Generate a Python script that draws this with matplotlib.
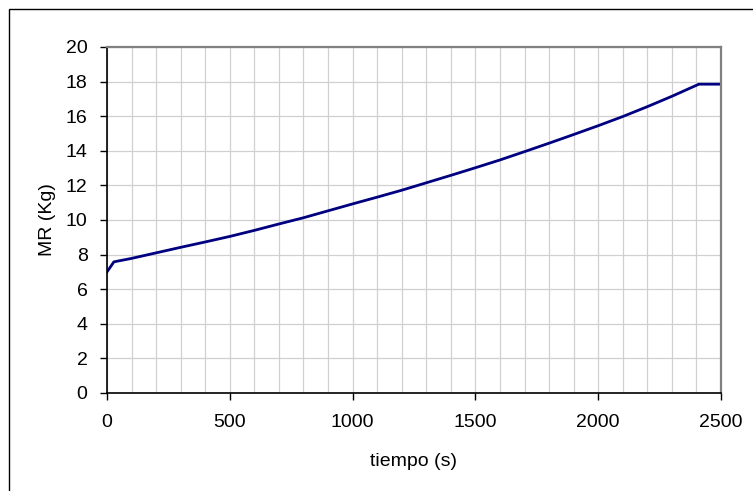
import matplotlib.pyplot as plt
from matplotlib.patches import Rectangle
from matplotlib.ticker import MultipleLocator

plt.rcParams['font.family'] = ['Liberation Sans', 'DejaVu Sans']

# datos
tiempo = [0, 28, 100, 200, 300, 400, 500, 600, 700, 800, 900, 1000, 1100, 1200,
          1300, 1400, 1500, 1600, 1700, 1800, 1900, 2000, 2100, 2200, 2300, 2410, 2500]
mr = [7.0, 7.58, 7.78, 8.1, 8.42, 8.73, 9.05, 9.4, 9.77, 10.13, 10.53, 10.93, 11.32, 11.72,
      12.15, 12.58, 13.02, 13.47, 13.95, 14.44, 14.94, 15.45, 15.98, 16.55, 17.15, 17.85, 17.85]

fig = plt.figure(figsize=(7.53, 4.91), dpi=100)
ax = fig.add_axes([0.1421, 0.1996, 0.8154, 0.7047])

# marco exterior
fig.patches.append(Rectangle((9 / 753, -0.05), 1.1, 1 - 9 / 491 + 0.05,
                             transform=fig.transFigure, fill=False,
                             edgecolor='black', linewidth=1.0))

ax.plot(tiempo, mr, color='#000080', linewidth=2.0)

ax.set_xlim(0, 2500)
ax.set_ylim(0, 20)
ax.xaxis.set_major_locator(MultipleLocator(500))
ax.xaxis.set_minor_locator(MultipleLocator(100))
ax.yaxis.set_major_locator(MultipleLocator(2))

ax.grid(which='both', color='#d0d0d0', linewidth=0.9)
ax.set_axisbelow(True)

ax.tick_params(which='major', direction='out', length=5, width=1,
               labelsize=14, color='black')
ax.tick_params(axis='x', which='major', pad=10)
ax.tick_params(axis='y', which='major', pad=9)
ax.tick_params(which='minor', length=0)

for s in ['left', 'bottom']:
    ax.spines[s].set_color('black')
    ax.spines[s].set_linewidth(1.2)
for s in ['top', 'right']:
    ax.spines[s].set_color('#808080')
    ax.spines[s].set_linewidth(1.6)

ax.set_xlabel('tiempo (s)', fontsize=14, labelpad=16)
ax.set_ylabel('MR (Kg)', fontsize=14, labelpad=7)

fig.savefig('out.png', dpi=100)
